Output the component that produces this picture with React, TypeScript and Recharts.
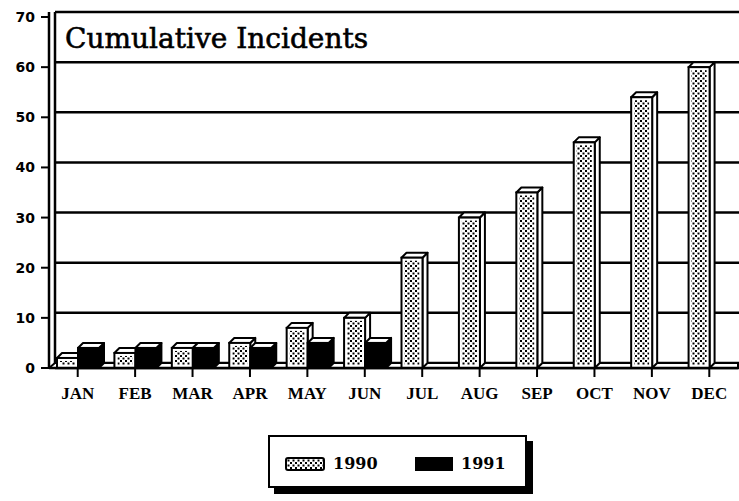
import React from 'react';
import { BarChart, Bar, XAxis, YAxis, CartesianGrid, ReferenceArea, Legend } from 'recharts';

const months = ['JAN', 'FEB', 'MAR', 'APR', 'MAY', 'JUN', 'JUL', 'AUG', 'SEP', 'OCT', 'NOV', 'DEC'];
const incidents1990 = [2, 3, 4, 5, 8, 10, 22, 30, 35, 45, 54, 60];
const incidents1991: (number | null)[] = [4, 4, 4, 4, 5, 5, null, null, null, null, null, null];
const yTicks = [0, 10, 20, 30, 40, 50, 60, 70];
const seriesNames = ['1990', '1991'];
const chartTitle = 'Cumulative Incidents';

const data = months.map((m, i) => ({ month: m, y1990: incidents1990[i], y1991: incidents1991[i] }));

const DEPTH = 5;

const makeBar3D = (dark: boolean) => (props: any) => {
  const { x, y, width, height, fill } = props;
  if (x == null || y == null || !width || !height || height <= 0) return <g />;
  const d = DEPTH;
  const top = `${x},${y} ${x + d},${y - d} ${x + width + d},${y - d} ${x + width},${y}`;
  const side = `${x + width},${y} ${x + width + d},${y - d} ${x + width + d},${y + height - d} ${x + width},${y + height}`;
  const inset = 3;
  return (
    <g>
      <polygon points={side} fill={dark ? '#000' : '#fff'} stroke="#000" strokeWidth={2} strokeLinejoin="round" />
      <polygon points={top} fill="#fff" stroke="#000" strokeWidth={2} strokeLinejoin="round" />
      <rect x={x} y={y} width={width} height={height} fill={dark ? fill : '#fff'} stroke="#000" strokeWidth={2} />
      {!dark && height > inset * 2 && (
        <rect x={x + inset} y={y + inset} width={width - inset * 2} height={height - inset * 2} fill={fill} />
      )}
    </g>
  );
};

const Floor = (props: any) => {
  const { x, y, width, height } = props;
  const d = DEPTH;
  const pts = `${x},${y + height} ${x + d + 1},${y} ${x + width},${y} ${x + width},${y + height}`;
  return <polygon points={pts} fill="#fff" stroke="#000" strokeWidth={2} />;
};

const DotPattern = ({ id }: { id: string }) => (
  <pattern id={id} width="5" height="5" patternUnits="userSpaceOnUse">
    <rect width="5" height="5" fill="#fff" />
    <rect x="0" y="0" width="2" height="2" fill="#000" />
    <rect x="2.5" y="2.5" width="2" height="2" fill="#000" />
  </pattern>
);

const PatternSwatch = ({ w, h }: { w: number; h: number }) => (
  <svg width={w} height={h} style={{ display: 'block' }}>
    <defs>
      <DotPattern id="dotsLegend" />
    </defs>
    <rect x={1} y={1} width={w - 2} height={h - 2} rx={2} fill="url(#dotsLegend)" stroke="#000" strokeWidth={2} />
  </svg>
);

const renderLegend = () => (
  <div style={{ position: 'relative', width: 265, height: 59 }}>
    <div style={{ position: 'absolute', left: 6, top: 6, width: 259, height: 53, background: '#000' }} />
    <div
      style={{
        position: 'absolute', left: 0, top: 0, width: 255, height: 49,
        border: '2px solid #000', background: '#fff',
      }}
    >
      {seriesNames.map((name, i) => (
        <div key={name} style={{ position: 'absolute', left: 15 + i * 130, top: 20, display: 'flex', alignItems: 'center' }}>
          {i === 0 ? (
            <PatternSwatch w={40} h={14} />
          ) : (
            <div style={{ width: 38, height: 14, background: '#000' }} />
          )}
          <span
            style={{
              marginLeft: 8, fontFamily: 'DejaVu Serif', fontWeight: 'bold', fontSize: 16,
              color: '#000', lineHeight: '14px',
            }}
          >
            {name}
          </span>
        </div>
      ))}
    </div>
  </div>
);

export default function App() {
  return (
    <div style={{ position: 'absolute', left: 0, top: 0, width: 739, height: 501, background: '#fff' }}>
      <BarChart
        width={739}
        height={501}
        data={data}
        margin={{ top: 12, right: 1, left: 0, bottom: 103 }}
        barSize={21}
        barGap={0}
      >
        <defs>
          <DotPattern id="dots" />
        </defs>
        <YAxis yAxisId="grid" hide domain={[-1, 70]} ticks={yTicks} type="number" allowDataOverflow />
        <CartesianGrid
          yAxisId="grid"
          x={55}
          width={684}
          stroke="#000"
          strokeWidth={2.5}
          horizontal
          vertical
          verticalCoordinatesGenerator={({ offset }: any) => [offset.left + 6]}
        />
        <XAxis
          dataKey="month"
          height={30}
          axisLine={{ stroke: '#000', strokeWidth: 2.5 }}
          tickLine={{ stroke: '#000', strokeWidth: 2 }}
          tickSize={9}
          tickMargin={10}
          interval={0}
          tick={{ fill: '#000', fontFamily: 'Liberation Serif', fontWeight: 'bold', fontSize: 17 }}
        />
        <YAxis
          domain={[0, 71]}
          ticks={yTicks}
          type="number"
          width={49}
          allowDataOverflow
          axisLine={{ stroke: '#000', strokeWidth: 2.5 }}
          tickLine={{ stroke: '#000', strokeWidth: 2 }}
          tickSize={8}
          tickMargin={6}
          tick={{ fill: '#000', fontFamily: 'DejaVu Sans', fontWeight: 'bold', fontSize: 14 }}
        />
        <ReferenceArea y1={0} y2={1} shape={Floor} ifOverflow="visible" />
        <Bar dataKey="y1990" name="1990" fill="url(#dots)" shape={makeBar3D(false)} isAnimationActive={false} />
        <Bar dataKey="y1991" name="1991" fill="#000" shape={makeBar3D(true)} isAnimationActive={false} />
        <text x={65} y={48} fontFamily="DejaVu Serif" fontSize={28} fill="#000" stroke="#000" strokeWidth={0.6}>
          {chartTitle}
        </text>
        <Legend
          layout="horizontal"
          verticalAlign="middle"
          align="center"
          content={renderLegend}
          wrapperStyle={{ position: 'absolute', left: 268, top: 435, width: 265, height: 59 }}
        />
      </BarChart>
    </div>
  );
}
